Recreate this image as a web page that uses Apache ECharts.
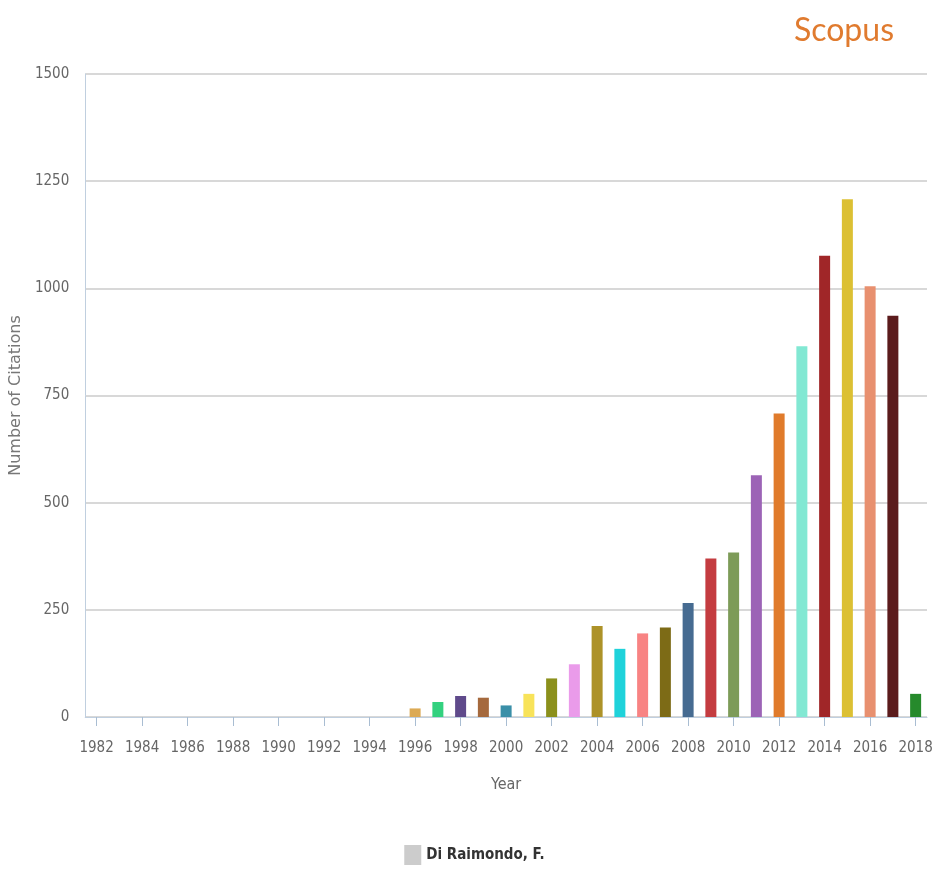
<!DOCTYPE html>
<html>
<head>
<meta charset="utf-8">
<script src="https://cdn.jsdelivr.net/npm/echarts@6/dist/echarts.min.js"></script>
<style>
html,body{margin:0;padding:0;background:#fff;}
#c{width:949px;height:873px;}
</style>
</head>
<body>
<div id="c"></div>
<script>
const years = ['1982','1983','1984','1985','1986','1987','1988','1989','1990','1991','1992','1993','1994','1995','1996','1997','1998','1999','2000','2001','2002','2003','2004','2005','2006','2007','2008','2009','2010','2011','2012','2013','2014','2015','2016','2017','2018'];
const citations = [0,0,0,0,0,0,0,0,0,0,0,0,0,0,20,35,49,45,27,54,90,123,212,159,195,209,266,370,384,564,708,865,1076,1208,1005,936,54];
const barColors = ['#cccccc','#cccccc','#cccccc','#cccccc','#cccccc','#cccccc','#cccccc','#cccccc','#cccccc','#cccccc','#cccccc','#cccccc','#cccccc','#cccccc',
  '#dcaa55','#33d17f','#5f4a8b','#a5693d','#3a8fa8','#f8e35a','#8b901c','#ea9bea','#ad9228','#1fd2da','#f88383','#7d6b16','#466b91','#c43c40','#7d9b58','#9c63b6','#e07b2b','#82e8d3','#a02628','#dcc033','#e8906f','#5b1b1c','#268a2c'];
const yTicks = [0,250,500,750,1000,1250,1500];
const seriesName = 'Di Raimondo, F.';

const chart = echarts.init(document.getElementById('c'));
const narrow = '"Liberation Sans Narrow", "Arial Narrow", "DejaVu Sans Condensed", "Roboto Condensed", sans-serif';
chart.setOption({
  animation:false,
  title:{text:'Scopus', right:50, top:10, textStyle:{color:'#e07b2f', fontSize:32, fontWeight:'normal', fontFamily:'Lato, "Open Sans", sans-serif'}},
  grid:{left:84, right:22, top:74, bottom:156},
  legend:{bottom:3, left:'center', data:[seriesName], icon:'rect', itemWidth:17, itemHeight:20, itemGap:6,
    textStyle:{color:'#333', fontWeight:'bold', fontSize:15, fontFamily:narrow}},
  xAxis:{type:'category', data:years, name:'Year', nameLocation:'middle', nameGap:60,
    nameTextStyle:{color:'#666', fontSize:16, fontFamily:narrow},
    axisLine:{lineStyle:{color:'#c0cfdf'}},
    axisTick:{show:true, alignWithLabel:true, interval:1, length:9, lineStyle:{color:'#a9bdd2', width:1}},
    axisLabel:{interval:1, color:'#666', fontSize:15, margin:24, fontFamily:narrow},
    splitLine:{show:false}},
  yAxis:{type:'value', min:yTicks[0], max:yTicks[yTicks.length-1], interval:250,
    name:'Number of Citations', nameLocation:'middle', nameGap:56,
    nameTextStyle:{color:'#777', fontSize:16, fontFamily:'"DejaVu Sans", sans-serif'},
    axisLine:{show:true, lineStyle:{color:'#c0cfdf'}},
    axisTick:{show:false},
    axisLabel:{color:'#666', fontSize:15, margin:16, fontFamily:narrow, formatter:v=>String(v)},
    splitLine:{lineStyle:{color:'#cbcbcb', width:1.5}}},
  series:[{
    name:seriesName, type:'bar', barWidth:11,
    itemStyle:{color:'#cccccc'},
    data:citations.map((v,i)=>({value:v, itemStyle:{color:barColors[i]}}))
  }]
});
</script>
</body>
</html>
